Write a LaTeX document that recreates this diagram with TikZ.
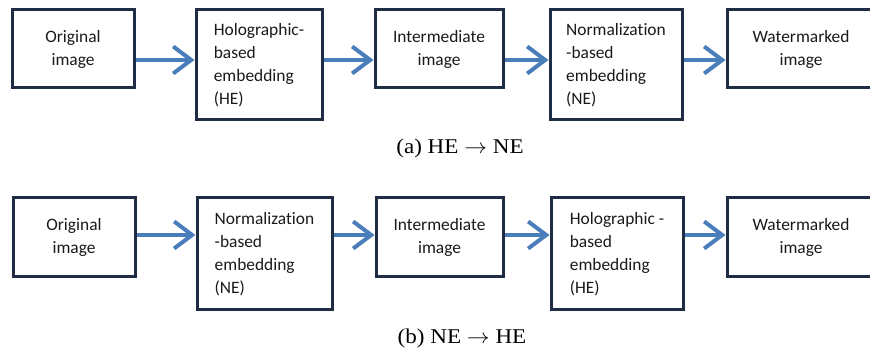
\documentclass[tikz,border=0pt]{standalone}
\usepackage{fontspec}
\usepackage{graphicx}
\setmainfont{Liberation Serif}
\newfontfamily\boxfont[Ligatures=CommonOff]{Carlito}
\usetikzlibrary{arrows.meta,calc}
\definecolor{boxline}{HTML}{1F2D44}
\definecolor{flowblue}{HTML}{4A7EBB}
\definecolor{boxtext}{HTML}{1A1A1A}
\tikzset{
  stage/.style={draw=boxline, line width=3pt, fill=white, inner sep=0pt,
    font=\boxfont\fontsize{17.4}{23}\selectfont, text=boxtext, align=center},
  leftstage/.style={stage, align=left},
  flow/.style={draw=flowblue, line width=4pt,
    -{Straight Barb[length=18pt,width=27pt,line width=4pt]}},
  caption/.style={font=\fontsize{21}{25}\selectfont, inner sep=0pt}
}
\newcommand{\widecap}[1]{\scalebox{1.1}[1]{#1}}
\begin{document}
\begin{tikzpicture}[x=1pt,y=-1pt]
\useasboundingbox (0,0) rectangle (870,352);

% row (a): HE then NE
\node[stage, minimum width=122pt, minimum height=78pt] (a1) at (73,49) {Original\\image};
\node[leftstage, minimum width=126pt, minimum height=110pt] (a2) at (259,65) {Holographic-\\based\\embedding\\(HE)};
\node[stage, minimum width=128pt, minimum height=78pt] (a3) at (439,49) {Intermediate\\image};
\node[leftstage, minimum width=132pt, minimum height=110pt] (a4) at (616,65) {Normalization\\-based\\embedding\\(NE)};
\node[stage, minimum width=148pt, minimum height=78pt] (a5) at (801,49) {Watermarked\\image};
\coordinate (rowa) at (0,60);
\draw[flow] (a1.east |- rowa) -- (a2.west |- rowa);
\draw[flow] (a2.east |- rowa) -- (a3.west |- rowa);
\draw[flow] (a3.east |- rowa) -- (a4.west |- rowa);
\draw[flow] (a4.east |- rowa) -- (a5.west |- rowa);
\node[caption] (capa) at (460,148) {\widecap{(a) HE $\rightarrow$ NE}};

% row (b): NE then HE
\node[stage, minimum width=122pt, minimum height=79pt] (b1) at (74,237.5) {Original\\image};
\node[leftstage, minimum width=135pt, minimum height=112pt] (b2) at (264.5,254) {Normalization\\-based\\embedding\\(NE)};
\node[stage, minimum width=127pt, minimum height=79pt] (b3) at (439.5,237.5) {Intermediate\\image};
\node[leftstage, minimum width=132pt, minimum height=112pt] (b4) at (617,254) {Holographic -\\based\\embedding\\(HE)};
\node[stage, minimum width=148pt, minimum height=79pt] (b5) at (801,237.5) {Watermarked\\image};
\coordinate (rowb) at (0,235);
\draw[flow] (b1.east |- rowb) -- (b2.west |- rowb);
\draw[flow] (b2.east |- rowb) -- (b3.west |- rowb);
\draw[flow] (b3.east |- rowb) -- (b4.west |- rowb);
\draw[flow] (b4.east |- rowb) -- (b5.west |- rowb);
\node[caption] (capb) at (462,338) {\widecap{(b) NE $\rightarrow$ HE}};
\end{tikzpicture}
\end{document}
